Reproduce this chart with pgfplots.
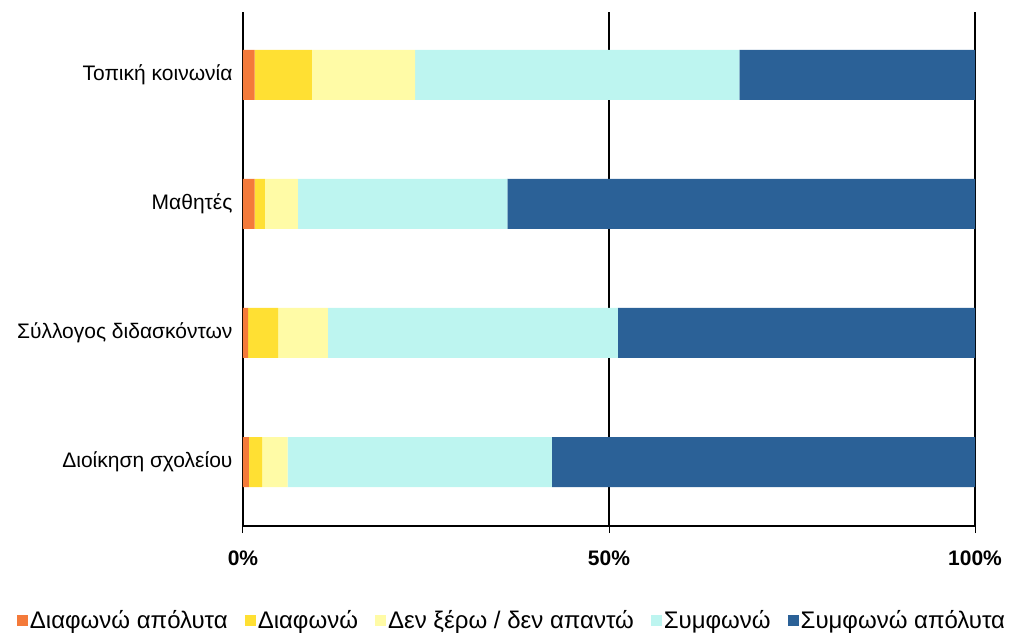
\documentclass[border=0pt]{standalone}
\usepackage{fontspec}
\setmainfont{Liberation Sans}
\usepackage{pgfplots}
\pgfplotsset{compat=1.18}
\definecolor{c1}{HTML}{F47A3A}
\definecolor{c2}{HTML}{FFE033}
\definecolor{c3}{HTML}{FFFBA6}
\definecolor{c4}{HTML}{BDF5F0}
\definecolor{c5}{HTML}{2B6197}
\pgfplotsset{sq/.style={legend image code/.code={\fill[##1] (0pt,-5.5pt) rectangle (11pt,5.5pt);}}}
\begin{document}
\begin{tikzpicture}
\begin{axis}[
   scale only axis,
   width=732pt, height=514pt,
   xbar stacked, bar width=50pt,
   xmin=0, xmax=100,
   ymin=-0.496, ymax=3.488,
   axis lines*=left,
   axis line style={black, line width=1.2pt},
   ytick={0,1,2,3},
   yticklabels={Διοίκηση σχολείου, Σύλλογος διδασκόντων, Μαθητές, Τοπική κοινωνία},
   y tick label style={font=\fontsize{21}{24}\selectfont, xshift=0pt},
   ytick style={draw=none},
   xtick={0,50,100},
   xticklabels={0\%,50\%,100\%},
   x tick label style={font=\fontsize{21}{24}\selectfont\bfseries, yshift=-14pt},
   tick align=outside, major tick length=7pt,
   xtick style={black, line width=1pt},
   xmajorgrids, major grid style={black, line width=1.2pt},
   clip=false,
   legend columns=5,
   legend style={draw=none, at={(0.5,0)}, anchor=center, xshift=-97pt, yshift=-94pt,
     font=\fontsize{24}{28}\selectfont,
     /tikz/every even column/.append style={column sep=15pt}},
]
\addplot[fill=c1, draw=none, sq] coordinates {(0.8,0) (0.7,1) (1.6,2) (1.6,3)};
\addplot[fill=c2, draw=none, sq] coordinates {(1.8,0) (4.1,1) (1.4,2) (7.8,3)};
\addplot[fill=c3, draw=none, sq] coordinates {(3.5,0) (6.8,1) (4.5,2) (14.1,3)};
\addplot[fill=c4, draw=none, sq] coordinates {(36.1,0) (39.6,1) (28.6,2) (44.3,3)};
\addplot[fill=c5, draw=none, sq] coordinates {(57.8,0) (48.8,1) (63.9,2) (32.2,3)};
\legend{Διαφωνώ απόλυτα, Διαφωνώ, Δεν ξέρω / δεν απαντώ, Συμφωνώ, Συμφωνώ απόλυτα}
\coordinate (o) at (rel axis cs:0,0);
\end{axis}
\pgfresetboundingbox
\path (o) ++(-243pt,-107pt) rectangle ++(1011pt,633pt);
\end{tikzpicture}
\end{document}
